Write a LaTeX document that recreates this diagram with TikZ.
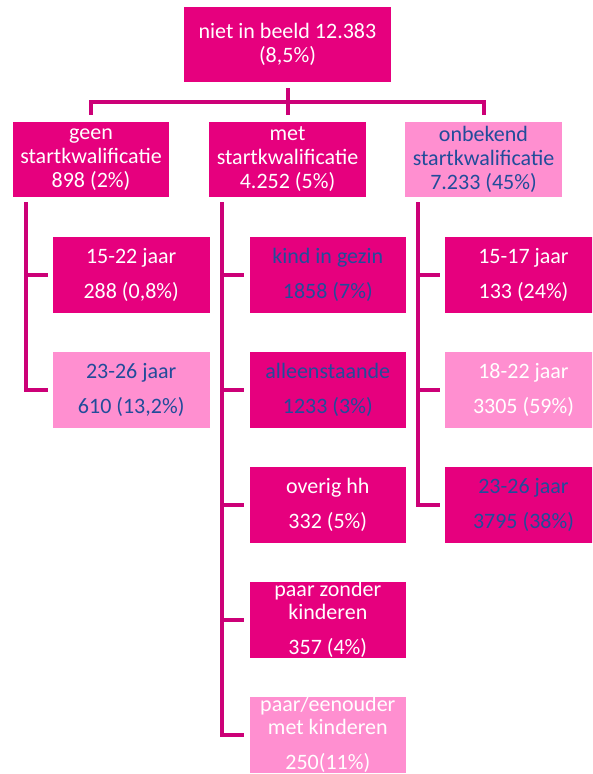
\documentclass[tikz,border=0pt]{standalone}
\usepackage{fontspec}
\setmainfont{Carlito}
\definecolor{dark}{HTML}{E6007E}
\definecolor{light}{HTML}{FF8FD0}
\definecolor{conncol}{HTML}{CC0077}
\definecolor{bluetxt}{HTML}{214C9A}
\tikzset{
  box/.style={inner sep=0pt, align=center, font=\fontsize{22}{24}\selectfont},
  lvla/.style={box, minimum width=207pt, minimum height=75pt},
  lvlb/.style={box, minimum width=156.5pt, minimum height=75pt},
  lvlc/.style={box, minimum width=156.6pt, minimum height=76pt},
  darkbox/.style={fill=dark},
  lightbox/.style={fill=light},
  wt/.style={text=white},
  bt/.style={text=bluetxt},
  conn/.style={draw=conncol, line width=4pt, line join=miter}
}
\begin{document}
\begin{tikzpicture}[x=1pt,y=-1pt]
\useasboundingbox (0,0) rectangle (592,774);
\clip (0,0) rectangle (592,774);
% top
\node[lvla, darkbox, wt] (top) at (287.5,44.5) {niet in beeld 12.383\\(8,5\%)};
% level 1
\node[lvlb, darkbox, wt] (geen) at (91,159.5) {geen\\startkwalificatie\\898 (2\%)};
\node[lvlb, darkbox, wt] (met) at (287.5,159.5) {met\\startkwalificatie\\4.252 (5\%)};
\node[lvlb, lightbox, bt] (onb) at (483.5,159.5) {onbekend\\startkwalificatie\\7.233 (45\%)};
% column 1
\node[lvlc, darkbox, wt] (a1) at (131.2,274.5) {15-22 jaar\\[11pt]288 (0,8\%)};
\node[lvlc, lightbox, bt] (a2) at (131.2,390) {23-26 jaar\\[11pt]610 (13,2\%)};
% column 2
\node[lvlc, darkbox, bt] (b1) at (327.8,274.5) {kind in gezin\\[11pt]1858 (7\%)};
\node[lvlc, darkbox, bt] (b2) at (327.8,390) {alleenstaande\\[11pt]1233 (3\%)};
\node[lvlc, darkbox, wt] (b3) at (327.8,504.7) {overig hh\\[11pt]332 (5\%)};
\node[lvlc, darkbox, wt] (b4) at (327.8,619.7) {paar zonder\\[-1pt]kinderen\\[11pt]357 (4\%)};
\node[lvlc, lightbox, wt] (b5) at (327.8,734.7) {paar/eenouder\\[-1pt]met kinderen\\[11pt]250(11\%)};
% column 3
\node[lvlc, darkbox, wt] (c1) at (523.5,274.5) {15-17 jaar\\[11pt]133 (24\%)};
\node[lvlc, lightbox, wt] (c2) at (523.5,390) {18-22 jaar\\[11pt]3305 (59\%)};
\node[lvlc, darkbox, bt] (c3) at (523.5,504.7) {23-26 jaar\\[11pt]3795 (38\%)};
% top connectors
\coordinate (bar) at (287.5,102);
\draw[conn] ([yshift=-6pt]top.south) -- ([yshift=7pt]met.north);
\draw[conn] ([yshift=7pt]geen.north) |- (bar) -| ([yshift=7pt]onb.north);
% column connectors
\coordinate (v1) at ([xshift=13pt,yshift=-5pt]geen.south west);
\coordinate (v2) at ([xshift=13pt,yshift=-5pt]met.south west);
\coordinate (v3) at ([xshift=13pt,yshift=-5pt]onb.south west);
\draw[conn] (v1) |- ([xshift=-5pt]a2.west);
\draw[conn] (v1 |- a1.west) -- ([xshift=-5pt]a1.west);
\draw[conn] (v2) |- ([xshift=-5pt]b5.west);
\draw[conn] (v2 |- b1.west) -- ([xshift=-5pt]b1.west);
\draw[conn] (v2 |- b2.west) -- ([xshift=-5pt]b2.west);
\draw[conn] (v2 |- b3.west) -- ([xshift=-5pt]b3.west);
\draw[conn] (v2 |- b4.west) -- ([xshift=-5pt]b4.west);
\draw[conn] (v3) |- ([xshift=-5pt]c3.west);
\draw[conn] (v3 |- c1.west) -- ([xshift=-5pt]c1.west);
\draw[conn] (v3 |- c2.west) -- ([xshift=-5pt]c2.west);
\end{tikzpicture}
\end{document}
